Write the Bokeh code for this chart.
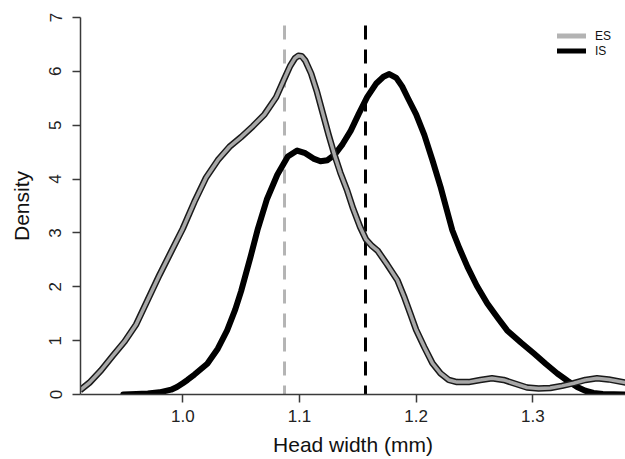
from bokeh.plotting import figure
from bokeh.models import FixedTicker, Legend, LegendItem, Range1d
from bokeh.embed import file_html
from bokeh.resources import INLINE

# ---- data ----
es_x = [0.912, 0.920, 0.930, 0.940, 0.950, 0.960, 0.970, 0.980, 0.990, 1.000,
        1.010, 1.020, 1.030, 1.040, 1.050, 1.060, 1.070, 1.080, 1.087, 1.092,
        1.096, 1.099, 1.102, 1.105, 1.110, 1.115, 1.120, 1.125, 1.130, 1.135,
        1.141, 1.146, 1.152, 1.157, 1.162, 1.167, 1.175, 1.184, 1.190, 1.195,
        1.200, 1.207, 1.214, 1.221, 1.228, 1.235, 1.245, 1.255, 1.265, 1.275,
        1.285, 1.295, 1.305, 1.315, 1.325, 1.335, 1.345, 1.355, 1.365, 1.380]
es_y = [0.08, 0.22, 0.45, 0.72, 0.98, 1.30, 1.76, 2.22, 2.65, 3.08,
        3.58, 4.03, 4.35, 4.60, 4.78, 4.98, 5.20, 5.52, 5.86, 6.10,
        6.24, 6.29, 6.28, 6.20, 5.96, 5.62, 5.22, 4.82, 4.45, 4.12,
        3.78, 3.45, 3.11, 2.88, 2.76, 2.67, 2.42, 2.12, 1.80, 1.50,
        1.20, 0.88, 0.58, 0.39, 0.27, 0.23, 0.23, 0.27, 0.30, 0.27,
        0.20, 0.13, 0.11, 0.12, 0.16, 0.21, 0.27, 0.30, 0.28, 0.22]

is_x = [0.949, 0.960, 0.970, 0.980, 0.990, 0.995, 1.000, 1.004, 1.010, 1.021,
        1.030, 1.038, 1.045, 1.050, 1.058, 1.064, 1.072, 1.081, 1.090, 1.098,
        1.105, 1.112, 1.118, 1.124, 1.130, 1.137, 1.144, 1.151, 1.158, 1.166,
        1.172, 1.177, 1.183, 1.188, 1.193, 1.200, 1.207, 1.214, 1.221, 1.226,
        1.231, 1.237, 1.244, 1.252, 1.261, 1.270, 1.278, 1.290, 1.301, 1.311,
        1.321, 1.330, 1.338, 1.345, 1.352, 1.360, 1.380]
is_y = [0.00, 0.01, 0.02, 0.04, 0.09, 0.14, 0.21, 0.27, 0.37, 0.57,
        0.85, 1.19, 1.58, 1.92, 2.55, 3.05, 3.62, 4.08, 4.42, 4.53,
        4.48, 4.38, 4.33, 4.35, 4.45, 4.65, 4.90, 5.22, 5.52, 5.78,
        5.90, 5.95, 5.88, 5.72, 5.50, 5.20, 4.82, 4.35, 3.85, 3.45,
        3.05, 2.72, 2.37, 2.02, 1.69, 1.42, 1.19, 0.96, 0.76, 0.57,
        0.39, 0.25, 0.14, 0.07, 0.03, 0.01, 0.00]

series_labels = ["ES", "IS"]
mean_x = [1.0872, 1.1566]
mean_top = [6.85, 6.85]

x_ticks = [1.0, 1.1, 1.2, 1.3]
x_tick_labels = ["1.0", "1.1", "1.2", "1.3"]
y_ticks = [0, 1, 2, 3, 4, 5, 6, 7]
y_tick_labels = ["0", "1", "2", "3", "4", "5", "6", "7"]

FONT = "Liberation Sans"
GREY = "#a8a8a8"
GREY_DASH = "#b4b4b4"
AXIS = "#3a3a3a"

p = figure(width=625, height=459, output_backend="svg", toolbar_location=None,
           x_range=Range1d(0.91232, 1.37945), y_range=Range1d(0, 7),
           min_border_left=80, min_border_right=0, min_border_top=17,
           min_border_bottom=65)
p.outline_line_color = None
p.grid.visible = False
p.background_fill_color = "white"
p.border_fill_color = "white"

# mean lines (dashed)
p.segment(x0=[mean_x[0]], y0=[mean_top[0]], x1=[mean_x[0]], y1=[0],
          line_color=GREY_DASH, line_width=3, line_dash="14 10")
p.segment(x0=[mean_x[1]], y0=[mean_top[1]], x1=[mean_x[1]], y1=[0],
          line_color="black", line_width=3, line_dash="14 10")

# IS density
p.line(is_x, is_y, line_color="black", line_width=6,
       line_join="round", line_cap="round")
# ES density: black outline + grey core
p.line(es_x, es_y, line_color="#1a1a1a", line_width=6.5, line_join="round")
p.line(es_x, es_y, line_color=GREY, line_width=3.5, line_join="round")

# legend proxies (hidden, only used for the legend glyphs)
leg_es = p.line(es_x, es_y, line_color="#b3b3b3", line_width=5,
                line_cap="round", visible=False)
leg_is = p.line(is_x, is_y, line_color="black", line_width=5,
                line_cap="round", visible=False)

legend = Legend(items=[LegendItem(label=series_labels[0], renderers=[leg_es]),
                       LegendItem(label=series_labels[1], renderers=[leg_is])],
                location=(477, 336), padding=0, spacing=0, margin=0,
                glyph_width=29, glyph_height=15, label_height=15,
                label_standoff=9, label_text_font_size="12px",
                label_text_font=FONT, label_text_color="#111111",
                border_line_alpha=0, background_fill_alpha=0,
                inactive_fill_alpha=0)
p.add_layout(legend)

# axes
xa = p.xaxis[0]
xa.ticker = FixedTicker(ticks=x_ticks)
xa.major_label_overrides = {t: l for t, l in zip(x_ticks, x_tick_labels)}
xa.axis_label = "Head width (mm)"
xa.minor_tick_line_color = None
xa.major_tick_in = 0
xa.major_tick_out = 8
xa.major_label_standoff = 7
xa.axis_label_standoff = 8
xa.major_label_text_font_size = "17px"
xa.major_label_text_line_height = 1.0
xa.axis_label_text_font_size = "21px"
xa.axis_label_text_line_height = 1.0
xa.axis_label_text_font_style = "normal"

ya = p.yaxis[0]
ya.ticker = FixedTicker(ticks=y_ticks)
ya.major_label_overrides = {t: l for t, l in zip(y_ticks, y_tick_labels)}
ya.axis_label = "Density"
ya.minor_tick_line_color = None
ya.major_tick_in = 0
ya.major_tick_out = 8
ya.major_label_standoff = 11
ya.major_label_orientation = "vertical"
ya.axis_label_standoff = 14
ya.major_label_text_font_size = "17px"
ya.axis_label_text_font_size = "21px"
ya.axis_label_text_font_style = "normal"

for ax in (xa, ya):
    ax.axis_line_color = AXIS
    ax.axis_line_width = 1.5
    ax.major_tick_line_color = AXIS
    ax.major_tick_line_width = 1.5
    ax.major_label_text_font = FONT
    ax.axis_label_text_font = FONT
    ax.major_label_text_color = "#222222"
    ax.axis_label_text_color = "#111111"

open("out.html", "w").write(file_html(p, INLINE))
